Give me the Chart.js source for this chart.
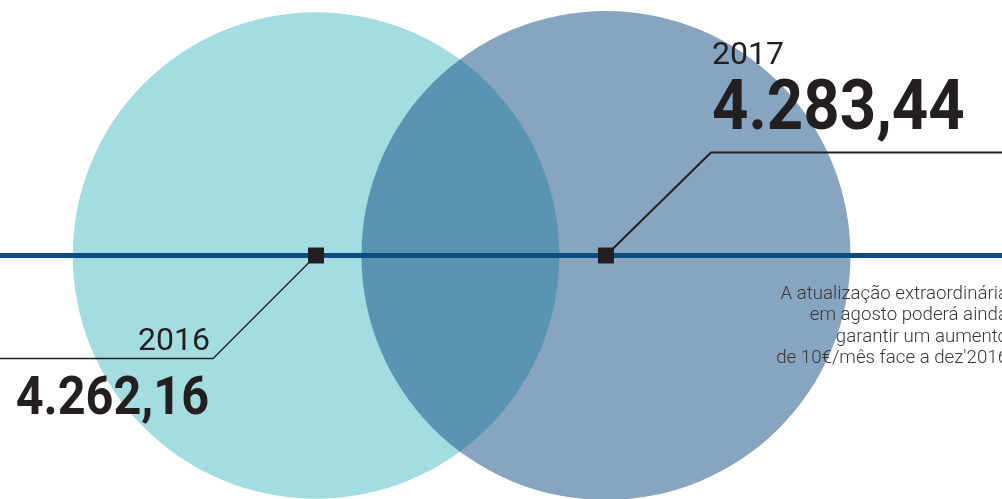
<!DOCTYPE html>
<html lang="pt">
<head>
<meta charset="UTF-8">
<title>Pensões 2016 / 2017</title>
<script src="https://cdn.jsdelivr.net/npm/chart.js"></script>
<style>
  html, body { margin: 0; padding: 0; background: #fff; }
  #wrap { position: relative; width: 1002px; height: 499px; }
</style>
</head>
<body>
<div id="wrap"><canvas id="chart"></canvas></div>
<script>
  // dados
  const years = ['2016', '2017'];
  const values = [4262.16, 4283.44];
  const note = [
    'A atualização extraordinária',
    'em agosto poderá ainda',
    'garantir um aumento',
    "de 10€/mês face a dez'2016"
  ];

  const circleColors = ['#a3dde2', 'rgba(15, 76, 129, 0.5)'];
  const axisColor = '#0f4c81';
  const ink = '#231f20';
  const pxPerUnit = 244.5 / 4283.44; // raio do círculo proporcional ao valor

  // 4262.16 -> "4.262,16"
  function fmt(v) {
    const [i, d] = v.toFixed(2).split('.');
    return i.replace(/\B(?=(\d{3})+(?!\d))/g, '.') + ',' + d;
  }

  const xs = years.map(Number);

  // linha de eixo, sinalizadores e etiquetas
  const labelsPlugin = {
    id: 'labels',
    afterDatasetDraw(chart, args) {
      if (args.index !== 0) return;
      const { ctx, chartArea, scales } = chart;
      const y0 = scales.y.getPixelForValue(0);
      ctx.save();
      ctx.strokeStyle = axisColor;
      ctx.lineWidth = 5;
      ctx.beginPath();
      ctx.moveTo(chartArea.left, y0);
      ctx.lineTo(chartArea.right, y0);
      ctx.stroke();
      ctx.restore();
    },
    afterDatasetsDraw(chart) {
      const { ctx, chartArea, scales } = chart;
      const y0 = scales.y.getPixelForValue(0);
      ctx.save();
      ctx.fillStyle = ink;
      ctx.strokeStyle = ink;

      years.forEach((yr, i) => {
        const px = scales.x.getPixelForValue(xs[i]);
        const up = i % 2 === 1;
        const ey = up ? y0 - 103 : y0 + 103;
        const ex = up ? px + 105 : px - 103;

        ctx.lineWidth = up ? 2 : 1.3;
        ctx.beginPath();
        ctx.moveTo(px, y0);
        ctx.lineTo(ex, ey);
        ctx.lineTo(up ? chartArea.right : chartArea.left, ey);
        ctx.stroke();

        ctx.textBaseline = 'alphabetic';
        if (up) {
          ctx.textAlign = 'left';
          ctx.font = '400 32px Roboto';
          ctx.fillText(yr, ex + 1, ey - 89);
          ctx.save();
          ctx.translate(ex + 1, ey - 24);
          ctx.scale(0.895, 1);
          ctx.font = '700 71px Roboto';
          ctx.fillText(fmt(values[i]), 0, 0);
          ctx.restore();
        } else {
          ctx.textAlign = 'right';
          ctx.font = '400 32px Roboto';
          ctx.fillText(yr, ex - 3, ey - 9);
          ctx.save();
          ctx.translate(ex - 4, ey + 55);
          ctx.scale(0.9, 1);
          ctx.font = '700 54px Roboto';
          ctx.fillText(fmt(values[i]), 0, 0);
          ctx.restore();
        }
      });

      ctx.fillStyle = '#3a3638';
      ctx.textAlign = 'right';
      ctx.font = '300 18.7px Roboto';
      note.forEach((t, k) => {
        ctx.fillText(t, chartArea.right + 6, y0 + 43 + k * 21.5);
      });
      ctx.restore();
    }
  };

  new Chart(document.getElementById('chart'), {
    data: {
      datasets: [
        {
          type: 'bubble',
          data: years.map((yr, i) => ({ x: xs[i], y: 0, r: values[i] * pxPerUnit })),
          backgroundColor: circleColors,
          borderWidth: 0,
          hoverBorderWidth: 0,
          clip: false,
          order: 2
        },
        {
          type: 'scatter',
          data: years.map((yr, i) => ({ x: xs[i], y: 0 })),
          pointStyle: 'rect',
          radius: 11.3,
          hoverRadius: 11.3,
          backgroundColor: ink,
          borderWidth: 0,
          clip: false,
          order: 1
        }
      ]
    },
    options: {
      responsive: true,
      maintainAspectRatio: false,
      animation: false,
      layout: { padding: 0, autoPadding: false },
      plugins: { legend: { display: false }, tooltip: { enabled: false } },
      scales: {
        x: { type: 'linear', display: false, min: 2014.910, max: 2018.366 },
        y: { type: 'linear', display: false, min: -0.953, max: 1 }
      }
    },
    plugins: [labelsPlugin]
  });
</script>
</body>
</html>
